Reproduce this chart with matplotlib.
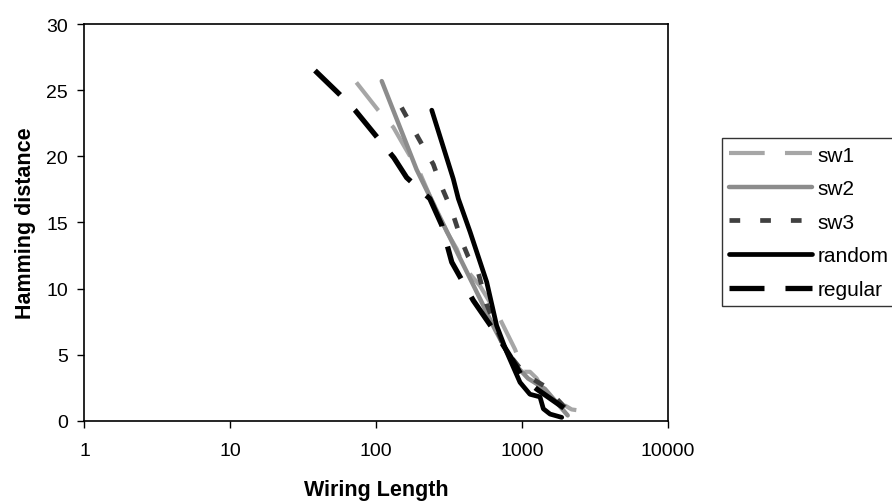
import matplotlib.pyplot as plt

plt.rcParams['font.family'] = ['Liberation Sans', 'DejaVu Sans']
plt.rcParams['lines.scale_dashes'] = False

# (wiring length, hamming distance)
sw1_x = [73, 103, 131, 153, 200, 233, 304, 356, 395, 514, 704, 893, 1018, 1130, 1257, 1361, 1679, 2183, 2350]
sw1_y = [25.6, 23.5, 22.2, 20.9, 18.7, 17.0, 14.3, 13.0, 11.7, 10.2, 7.7, 5.4, 3.7, 3.7, 3.2, 2.5, 1.6, 0.85, 0.8]

sw2_x = [109, 189, 356, 475, 651, 851, 1096, 1433, 2050]
sw2_y = [25.7, 19.0, 12.8, 10.0, 6.9, 4.5, 3.2, 2.4, 0.4]

sw3_x = [149, 194, 246, 273, 329, 385, 427, 500, 571, 762, 1045, 1433, 1965]
sw3_y = [23.7, 21.4, 19.4, 18.0, 15.9, 13.6, 12.4, 11.2, 8.8, 5.4, 3.5, 2.6, 1.0]

random_x = [240, 337, 365, 439, 571, 668, 783, 966, 1130, 1324, 1396, 1552, 1866]
random_y = [23.5, 18.3, 16.8, 14.3, 10.5, 7.2, 5.2, 2.9, 2.0, 1.8, 0.9, 0.5, 0.25]

regular_x = [38, 56, 71.5, 132, 161.5, 233, 281, 329, 462, 634, 825, 1018, 1257, 1965]
regular_y = [26.5, 24.7, 23.5, 19.9, 18.4, 16.8, 14.8, 12.0, 9.1, 6.9, 4.9, 3.2, 2.4, 0.9]

fig = plt.figure(figsize=(8.92, 5.02), dpi=100)
ax = fig.add_axes([0.0947, 0.160, 0.6543, 0.7896])

ax.plot(sw1_x, sw1_y, color='#a6a6a6', lw=3.0, dashes=(25.7, 14.6),
        dash_capstyle='butt', label='sw1')
ax.plot(sw2_x, sw2_y, color='#8c8c8c', lw=3.2, solid_capstyle='round', label='sw2')
ax.plot(sw3_x, sw3_y, color='#404040', lw=3.4, dashes=(7.7, 14.4),
        dash_capstyle='butt', label='sw3')
ax.plot(random_x, random_y, color='black', lw=3.4, solid_capstyle='round', label='random')
ax.plot(regular_x, regular_y, color='black', lw=3.8, dashes=(25.2, 15.1),
        dash_capstyle='butt', label='regular')

ax.set_xscale('log')
ax.set_xlim(1, 10000)
ax.set_ylim(0, 30)
ax.set_yticks(range(0, 31, 5))
ax.set_xticks([1, 10, 100, 1000, 10000])
ax.set_xticklabels(['1', '10', '100', '1000', '10000'])
ax.minorticks_off()
ax.tick_params(labelsize=14, length=5, width=1, direction='out', pad=7)
ax.tick_params(axis='x', pad=10)
for s in ax.spines.values():
    s.set_linewidth(1.2)

ax.set_xlabel('Wiring Length', fontsize=15.5, fontweight='bold', labelpad=15)
ax.set_ylabel('Hamming distance', fontsize=15.5, fontweight='bold', labelpad=7.5)

leg = fig.legend(loc='upper left', bbox_to_anchor=(721.7 / 892, 1 - 139.3 / 502, 175 / 892, 0.0),
                 mode='expand', borderaxespad=0, fontsize=15, handlelength=4.0,
                 handletextpad=0.25, labelspacing=0.7, borderpad=0.35,
                 fancybox=False, edgecolor='black')
leg.get_frame().set_linewidth(1.0)

fig.savefig('out.png', dpi=100)
